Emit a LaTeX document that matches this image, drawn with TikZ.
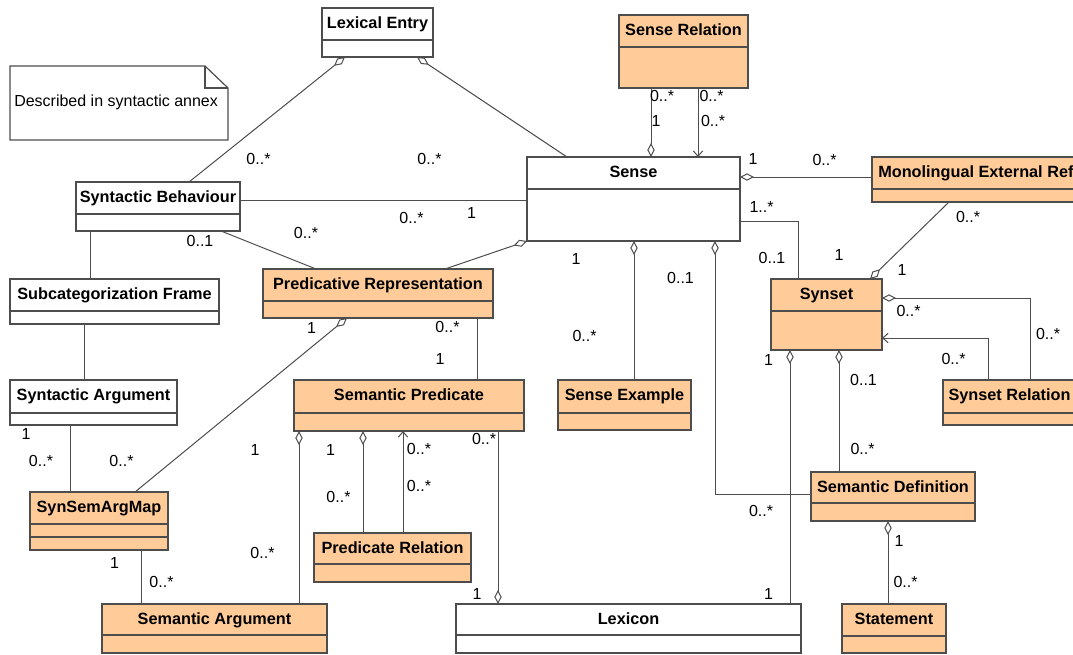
\documentclass[tikz,border=0pt]{standalone}
\usepackage{fontspec}
\setmainfont{Liberation Sans}
\usetikzlibrary{arrows.meta}
\definecolor{peach}{HTML}{FFCC99}
\definecolor{edge}{HTML}{4D4D4D}

% class box: name, left, top, right, bottom, divider y, fill, title
\newcommand\umlclass[8]{%
  \node[classbox, fill=#7, minimum width={(#4-(#2))*0.75pt},
        minimum height={(#5-(#3))*0.75pt}, anchor=north west] (#1) at (#2,#3) {};
  \draw[classbox] (#2,#6) -- (#4,#6);
  \node[classname, anchor=base] (#1-name) at ({(#2+#4)/2},#3+20) {#8};
}

\tikzset{
  classbox/.style={draw=edge, line width=0.9pt, inner sep=0pt, outer sep=0pt},
  classname/.style={font=\fontsize{12.2}{14}\selectfont\bfseries, inner sep=0pt},
  mult/.style={font=\fontsize{12}{14}\selectfont, inner sep=0pt},
  assoc/.style={draw=edge, line width=0.75pt},
  agg/.style={assoc, -{Diamond[open, length=10.5pt, width=5.5pt]}},
  nav/.style={assoc, -{Straight Barb[length=4pt, width=7pt]}},
}

\begin{document}
\begin{tikzpicture}[x=0.75pt, y=-0.75pt]
\path[fill=white, use as bounding box] (0,0) rectangle (1073,654);

% note
\draw[classbox] (10,66) -- (205,66) -- (228,88) -- (228,140) -- (10,140) -- cycle;
\draw[classbox] (205,66) -- (205,88) -- (228,88);
\node[mult, anchor=base west] (note) at (14,106) {Described in syntactic annex};

% classes
\umlclass{lexentry}{322}{8}{433}{57}{40}{white}{Lexical Entry}
\umlclass{senserel}{619}{15}{748}{88}{47}{peach}{Sense Relation}
\umlclass{sense}{527}{157}{740}{241}{189}{white}{Sense}
\umlclass{monoext}{872}{157}{1090}{202}{189}{peach}{}
\node[classname, anchor=base west] (monoext-title) at (878,177) {Monolingual External Ref};
\umlclass{synbeh}{76}{182}{240}{231}{214}{white}{Syntactic Behaviour}
\umlclass{subcat}{10}{279}{219}{324}{311}{white}{Subcategorization Frame}
\umlclass{synarg}{10}{380}{177}{425}{413}{white}{Syntactic Argument}
\umlclass{predrep}{263}{269}{493}{318}{301}{peach}{Predicative Representation}
\umlclass{sempred}{294}{380}{524}{431}{413}{peach}{Semantic Predicate}
\umlclass{senseex}{558}{380}{691}{430}{413}{peach}{Sense Example}
\umlclass{synset}{771}{279}{882}{350}{311}{peach}{Synset}
\umlclass{synrel}{943}{380}{1076}{425}{413}{peach}{Synset Relation}
\umlclass{synsem}{30}{492}{168}{550}{524}{peach}{SynSemArgMap}
\draw[classbox] (30,537) -- (168,537);
\umlclass{semarg}{102}{604}{327}{653}{635}{peach}{Semantic Argument}
\umlclass{predrel}{314}{533}{471}{582}{564}{peach}{Predicate Relation}
\umlclass{lexicon}{456}{604}{801}{653}{635}{white}{Lexicon}
\umlclass{semdef}{811}{472}{975}{521}{503}{peach}{Semantic Definition}
\umlclass{statement}{842}{604}{946}{653}{636}{peach}{Statement}

% associations
\draw[agg] (synbeh.north -| 189,0) -- (lexentry.south -| 345,0);
\draw[agg] (sense.north -| 567,0) -- (lexentry.south -| 417,0);
\draw[assoc] (synbeh.east |- 0,200) -- (sense.west |- 0,200);
\draw[assoc] (synbeh.south -| 221,0) -- (predrep.north -| 316,0);
\draw[agg] (predrep.north -| 445,0) -- (sense.south west);
\draw[assoc] (synbeh.south -| 90,0) -- (subcat.north -| 90,0);
\draw[assoc] (subcat.south -| 84,0) -- (synarg.north -| 84,0);
\draw[assoc] (synarg.south -| 70,0) -- (synsem.north -| 70,0);
\draw[agg] (synsem.north -| 135,0) -- (predrep.south -| 347,0);
\draw[assoc] (synsem.south -| 141,0) -- (semarg.north -| 141,0);
\draw[assoc] (predrep.south -| 477,0) -- (sempred.north -| 477,0);
\draw[agg] (semarg.north -| 299,0) -- (sempred.south -| 299,0);
\draw[agg] (predrel.north -| 363,0) -- (sempred.south -| 363,0);
\draw[nav] (predrel.north -| 403,0) -- (sempred.south -| 403,0);
\draw[agg] (sempred.south -| 498,0) -- (lexicon.north -| 498,0);
\draw[agg] (senseex.north -| 634,0) -- (sense.south -| 634,0);
\draw[agg] (semdef.west |- 0,494) -| (sense.south -| 715,0);
\draw[assoc] (sense.east |- 0,221) -| (synset.north -| 798,0);
\draw[agg] (senserel.south -| 651,0) -- (sense.north -| 651,0);
\draw[nav] (senserel.south -| 698,0) -- (sense.north -| 698,0);
\draw[agg] (monoext.west |- 0,177) -- (sense.east |- 0,177);
\draw[agg] (monoext.south -| 949,0) -- (synset.north -| 870,0);
\draw[agg] (synrel.north -| 1030,0) |- (synset.east |- 0,298);
\draw[nav] (synrel.north -| 988,0) |- (synset.east |- 0,338);
\draw[agg] (lexicon.north -| 790,0) -- (synset.south -| 790,0);
\draw[agg] (semdef.north -| 839,0) -- (synset.south -| 839,0);
\draw[agg] (statement.north -| 888,0) -- (semdef.south -| 888,0);

% multiplicities
\node[mult] (m1) at (258.5,159) {0..*};
\node[mult] (m2) at (429.5,158.5) {0..*};
\node[mult] (m3) at (411.5,218) {0..*};
\node[mult] (m4) at (471.5,212.5) {1};
\node[mult] (m5) at (200,240.5) {0..1};
\node[mult] (m6) at (306,232.5) {0..*};
\node[mult] (m7) at (576,259) {1};
\node[mult] (m8) at (680.5,278) {0..1};
\node[mult] (m9) at (584.5,336) {0..*};
\node[mult] (m10) at (447.5,327) {0..*};
\node[mult] (m11) at (440,358.5) {1};
\node[mult] (m12) at (311.5,327.5) {1};
\node[mult] (m13) at (26,434) {1};
\node[mult] (m14) at (41,460.5) {0..*};
\node[mult] (m15) at (121.5,460.5) {0..*};
\node[mult] (m16) at (255,450) {1};
\node[mult] (m17) at (330.5,450) {1};
\node[mult] (m18) at (338.5,496.5) {0..*};
\node[mult] (m19) at (262.5,553) {0..*};
\node[mult] (m20) at (114.5,562.5) {1};
\node[mult] (m21) at (161.5,582) {0..*};
\node[mult] (m22) at (419,449) {0..*};
\node[mult] (m23) at (419,486) {0..*};
\node[mult] (m24) at (484,439) {0..*};
\node[mult] (m25) at (477,594) {1};
\node[mult] (m26) at (662,95.5) {0..*};
\node[mult] (m27) at (656,121) {1};
\node[mult] (m28) at (711.5,95.5) {0..*};
\node[mult] (m29) at (713,121) {0..*};
\node[mult] (m30) at (753,159) {1};
\node[mult] (m31) at (824.5,159.5) {0..*};
\node[mult] (m32) at (761.5,206.5) {1..*};
\node[mult] (m33) at (968,216.5) {0..*};
\node[mult] (m34) at (772,258) {0..1};
\node[mult] (m35) at (839,254.5) {1};
\node[mult] (m36) at (902,270) {1};
\node[mult] (m37) at (908.5,310.5) {0..*};
\node[mult] (m38) at (1048,334) {0..*};
\node[mult] (m39) at (953.5,359) {0..*};
\node[mult] (m40) at (768.5,359.5) {1};
\node[mult] (m41) at (863.5,379.5) {0..1};
\node[mult] (m42) at (862.5,449) {0..*};
\node[mult] (m43) at (761,510.5) {0..*};
\node[mult] (m44) at (768.5,594) {1};
\node[mult] (m45) at (899,541) {1};
\node[mult] (m46) at (905.5,582) {0..*};
\end{tikzpicture}
\end{document}
